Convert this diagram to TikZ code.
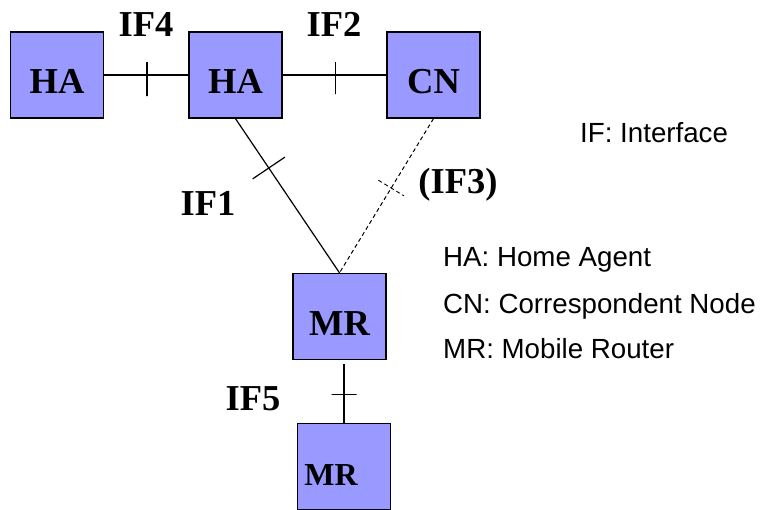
\documentclass[tikz,border=0pt]{standalone}
\usepackage{fontspec}
\setmainfont{Liberation Serif}
\setsansfont{Liberation Sans}
\definecolor{boxfill}{RGB}{153,153,255}
\tikzset{
  box/.style={draw=black, fill=boxfill, line width=1.3pt, minimum width=93pt, minimum height=86pt, inner sep=0pt,
    font=\fontsize{36.5}{40}\selectfont\bfseries, text height=37pt, text depth=0pt},
  link/.style={line width=1.2pt},
  dlink/.style={line width=1pt, dash pattern=on 4pt off 3pt},
  tick/.style={draw, line width=1.2pt, inner sep=0pt, minimum width=0pt, sloped, solid},
  iflab/.style={font=\fontsize{36.5}{40}\selectfont\bfseries, inner sep=0pt},
  legend/.style={font=\sffamily\fontsize{27.7}{30}\selectfont, anchor=base west, inner sep=0pt}
}
\begin{document}
\begin{tikzpicture}[x=1pt,y=-1pt]
\useasboundingbox (0,0) rectangle (762,509);
\node[box] (ha1) at (57,75) {HA};
\node[box] (ha2) at (235.5,75) {HA};
\node[box] (cn) at (433.5,75) {CN};
\node[box] (mr1) at (339.5,316.5) {MR};
\node[box, font=\fontsize{32}{36}\selectfont\bfseries] (mr2) at (344,466.5) {MR\hspace*{26pt}};

\draw[link] (ha1.east) -- node[tick, pos=0.51, minimum height=34pt, yshift=-4pt] {} (ha2.west);
\draw[link] (ha2.east) -- node[tick, pos=0.51, minimum height=32pt, yshift=-3pt] {} (cn.west);
\draw[link] (ha2.south) -- node[tick, pos=0.32, minimum height=39pt] {} (mr1.north);
\draw[dlink] (cn.south) -- node[tick, pos=0.45, minimum height=30pt, line width=0.9pt, dash pattern=on 4pt off 3pt] {} (mr1.north);
\draw[link] (mr1.south -| mr2.north) ++(0,4) coordinate (mr1b) -- node[tick, pos=0.52, minimum height=25pt] {} (mr2.north);

\node[iflab] (if4) at (146,24.5) {IF4};
\node[iflab] (if2) at (334,24.5) {IF2};
\node[iflab] (if1) at (208,203) {IF1};
\node[iflab] (if3) at (458,185) {(IF3)};
\node[iflab] (if5) at (253,399) {IF5};

\node[legend] (lif) at (580,142) {IF: Interface};
\node[legend] (lha) at (443,266.5) {HA: Home Agent};
\node[legend] (lcn) at (443,313) {CN: Correspondent Node};
\node[legend] (lmr) at (443,358) {MR: Mobile Router};
\end{tikzpicture}
\end{document}
